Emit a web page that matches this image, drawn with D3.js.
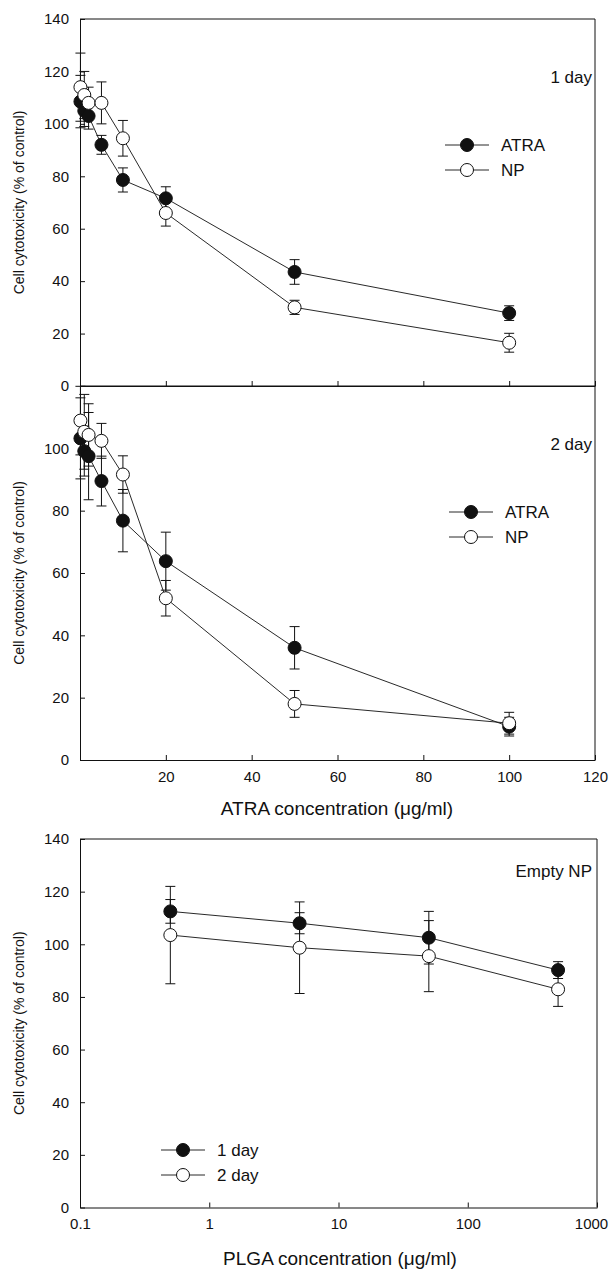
<!DOCTYPE html>
<html>
<head>
<meta charset="utf-8">
<script src="https://cdn.jsdelivr.net/npm/d3@7"></script>
<style>
  body { margin: 0; background: #fff; }
  text { font-family: "Liberation Sans", Arial, sans-serif; fill: #111; }
</style>
</head>
<body>
<div id="vis"></div>
<script>
// ATRA concentrations (ug/ml) for the two top panels
const atraConc = [0.1, 1, 2, 5, 10, 20, 50, 100];

// 1 day
const day1Atra    = [108.5, 105, 103, 92, 78.6, 71.6, 43.5, 27.8];
const day1AtraErr = [10, 6, 5, 3.6, 4.6, 4.4, 4.7, 2.8];
const day1Np      = [114, 111, 108, 108, 94.5, 66, 30, 16.5];
const day1NpErr   = [13, 9, 6, 8, 6.8, 5, 2.7, 3.6];

// 2 day
const day2Atra    = [103.2, 99.1, 97.5, 89.5, 76.8, 63.8, 36, 10.7];
const day2AtraErr = [13, 8, 14, 8, 10, 9.3, 6.8, 3];
const day2Np      = [108.9, 105.3, 104.3, 102.4, 91.6, 51.9, 18, 11.8];
const day2NpErr   = [11, 12, 10, 5.6, 6, 5.7, 4.3, 3.5];

// Empty NP (PLGA concentrations, log scale)
const plgaConc     = [0.5, 5, 50, 500];
const emptyDay1    = [112.5, 108, 102.5, 90.2];
const emptyDay1Err = [4.5, 4, 10, 3.2];
const emptyDay2    = [103.5, 98.7, 95.5, 82.9];
const emptyDay2Err = [18.5, 17.4, 13.5, 6.5];

// tick labels
const linXTicks = [20, 40, 60, 80, 100, 120];
const y140Ticks = [0, 20, 40, 60, 80, 100, 120, 140];
const y100Ticks = [0, 20, 40, 60, 80, 100];
const logXTicks = [0.1, 1, 10, 100, 1000];

const W = 610, H = 1272;
const svg = d3.select("#vis").append("svg")
              .attr("width", W)
              .attr("height", H);

const LEFT = 80;
const INK = "#111";

// scales
const xLin = d3.scaleLinear().domain([0, 120]).range([LEFT, 595]);
const xLog = d3.scaleLog().domain([0.1, 1000]).range([LEFT, 597]);

const panels = [
  { top: 19,  bottom: 386,    y: d3.scaleLinear().domain([0, 140]).range([386, 19]),
    x: xLin, yTicks: y140Ticks, xLabels: false, tag: "1 day",
    series: [
      { vals: day1Atra, err: day1AtraErr, fill: INK,    name: "ATRA" },
      { vals: day1Np,   err: day1NpErr,   fill: "#fff", name: "NP" }],
    conc: atraConc, legend: { x: 467, y: 145 } },
  { top: 386, bottom: 760,    y: d3.scaleLinear().domain([0, 120]).range([760, 386]),
    x: xLin, yTicks: y100Ticks, xLabels: true, tag: "2 day",
    series: [
      { vals: day2Atra, err: day2AtraErr, fill: INK,    name: "ATRA" },
      { vals: day2Np,   err: day2NpErr,   fill: "#fff", name: "NP" }],
    conc: atraConc, legend: { x: 471, y: 512 } },
  { top: 839, bottom: 1207.5, y: d3.scaleLinear().domain([0, 140]).range([1207.5, 839]),
    x: xLog, yTicks: y140Ticks, xLabels: true, tag: "Empty NP", log: true,
    series: [
      { vals: emptyDay1, err: emptyDay1Err, fill: INK,    name: "1 day" },
      { vals: emptyDay2, err: emptyDay2Err, fill: "#fff", name: "2 day" }],
    conc: plgaConc, legend: { x: 183, y: 1150 } }
];

panels.forEach((p) => {
  const g = svg.append("g");
  const xr = p.x.range();

  // frame top + right
  g.append("path")
   .attr("d", `M${xr[0]},${p.top}H${xr[1]}V${p.bottom}`)
   .attr("fill", "none").attr("stroke", INK).attr("stroke-width", 1);

  // y axis
  const yAxis = g.append("g")
    .attr("transform", `translate(${LEFT},0)`)
    .call(d3.axisLeft(p.y).tickValues(p.yTicks).tickSize(-5).tickSizeOuter(0).tickPadding(11));
  yAxis.selectAll("text").attr("font-size", "15px").attr("font-family", "Liberation Sans, Arial, sans-serif");

  // x axis
  const xAx = p.log
    ? d3.axisBottom(p.x).tickValues(logXTicks).tickFormat(d3.format("~g"))
    : d3.axisBottom(p.x).tickValues(linXTicks);
  if (!p.xLabels) xAx.tickFormat("");
  const xAxis = g.append("g")
    .attr("transform", `translate(0,${p.bottom})`)
    .call(xAx.tickSize(-5).tickSizeOuter(0).tickPadding(11));
  xAxis.selectAll("text").attr("font-size", "15px").attr("font-family", "Liberation Sans, Arial, sans-serif");
  // keep the last log label inside the page
  if (p.log) xAxis.selectAll(".tick:last-of-type text").attr("dx", -6);
  g.selectAll(".domain").attr("stroke", INK);
  g.selectAll(".tick line").attr("stroke", INK);

  // y axis title
  g.append("text")
   .attr("transform", `translate(24,${(p.top + p.bottom) / 2}) rotate(-90)`)
   .attr("text-anchor", "middle")
   .attr("font-size", "14px")
   .text("Cell cytotoxicity (% of control)");

  // panel tag
  g.append("text")
   .attr("x", 592).attr("y", p.top + (p.log ? 38 : 64))
   .attr("text-anchor", "end")
   .attr("font-size", "17px")
   .text(p.tag);

  // series
  const line = d3.line().x((d) => p.x(d.c)).y((d) => p.y(d.v));
  p.series.forEach((s) => {
    const pts = p.conc.map((c, i) => ({ c: c, v: s.vals[i], e: s.err[i] }));
    g.append("path").datum(pts)
     .attr("d", line).attr("fill", "none")
     .attr("stroke", INK).attr("stroke-width", 0.9);

    const eb = g.append("g").selectAll("g").data(pts).join("g")
                .attr("stroke", INK).attr("stroke-width", 1);
    eb.append("line")
      .attr("x1", (d) => p.x(d.c)).attr("x2", (d) => p.x(d.c))
      .attr("y1", (d) => p.y(d.v - d.e)).attr("y2", (d) => p.y(d.v + d.e));
    eb.append("line")
      .attr("x1", (d) => p.x(d.c) - 5).attr("x2", (d) => p.x(d.c) + 5)
      .attr("y1", (d) => p.y(d.v + d.e)).attr("y2", (d) => p.y(d.v + d.e));
    eb.append("line")
      .attr("x1", (d) => p.x(d.c) - 5).attr("x2", (d) => p.x(d.c) + 5)
      .attr("y1", (d) => p.y(d.v - d.e)).attr("y2", (d) => p.y(d.v - d.e));
  });
  p.series.forEach((s) => {
    g.append("g").selectAll("circle")
     .data(p.conc.map((c, i) => ({ c: c, v: s.vals[i] })))
     .join("circle")
     .attr("cx", (d) => p.x(d.c)).attr("cy", (d) => p.y(d.v))
     .attr("r", 6.5)
     .attr("fill", s.fill).attr("stroke", INK).attr("stroke-width", 1);
  });

  // legend
  p.series.forEach((s, i) => {
    const ly = p.legend.y + i * 25;
    g.append("line")
     .attr("x1", p.legend.x - 22).attr("x2", p.legend.x + 22)
     .attr("y1", ly).attr("y2", ly)
     .attr("stroke", INK).attr("stroke-width", 0.9);
    g.append("circle")
     .attr("cx", p.legend.x).attr("cy", ly).attr("r", 6.5)
     .attr("fill", s.fill).attr("stroke", INK);
    g.append("text")
     .attr("x", p.legend.x + 34).attr("y", ly + 6)
     .attr("font-size", "17px")
     .text(s.name);
  });
});

// x axis titles
svg.append("text")
   .attr("x", 337).attr("y", 815)
   .attr("text-anchor", "middle").attr("font-size", "19px")
   .text("ATRA concentration (\u03bcg/ml)");
svg.append("text")
   .attr("x", 340).attr("y", 1265)
   .attr("text-anchor", "middle").attr("font-size", "19px")
   .text("PLGA concentration (\u03bcg/ml)");
</script>
</body>
</html>
